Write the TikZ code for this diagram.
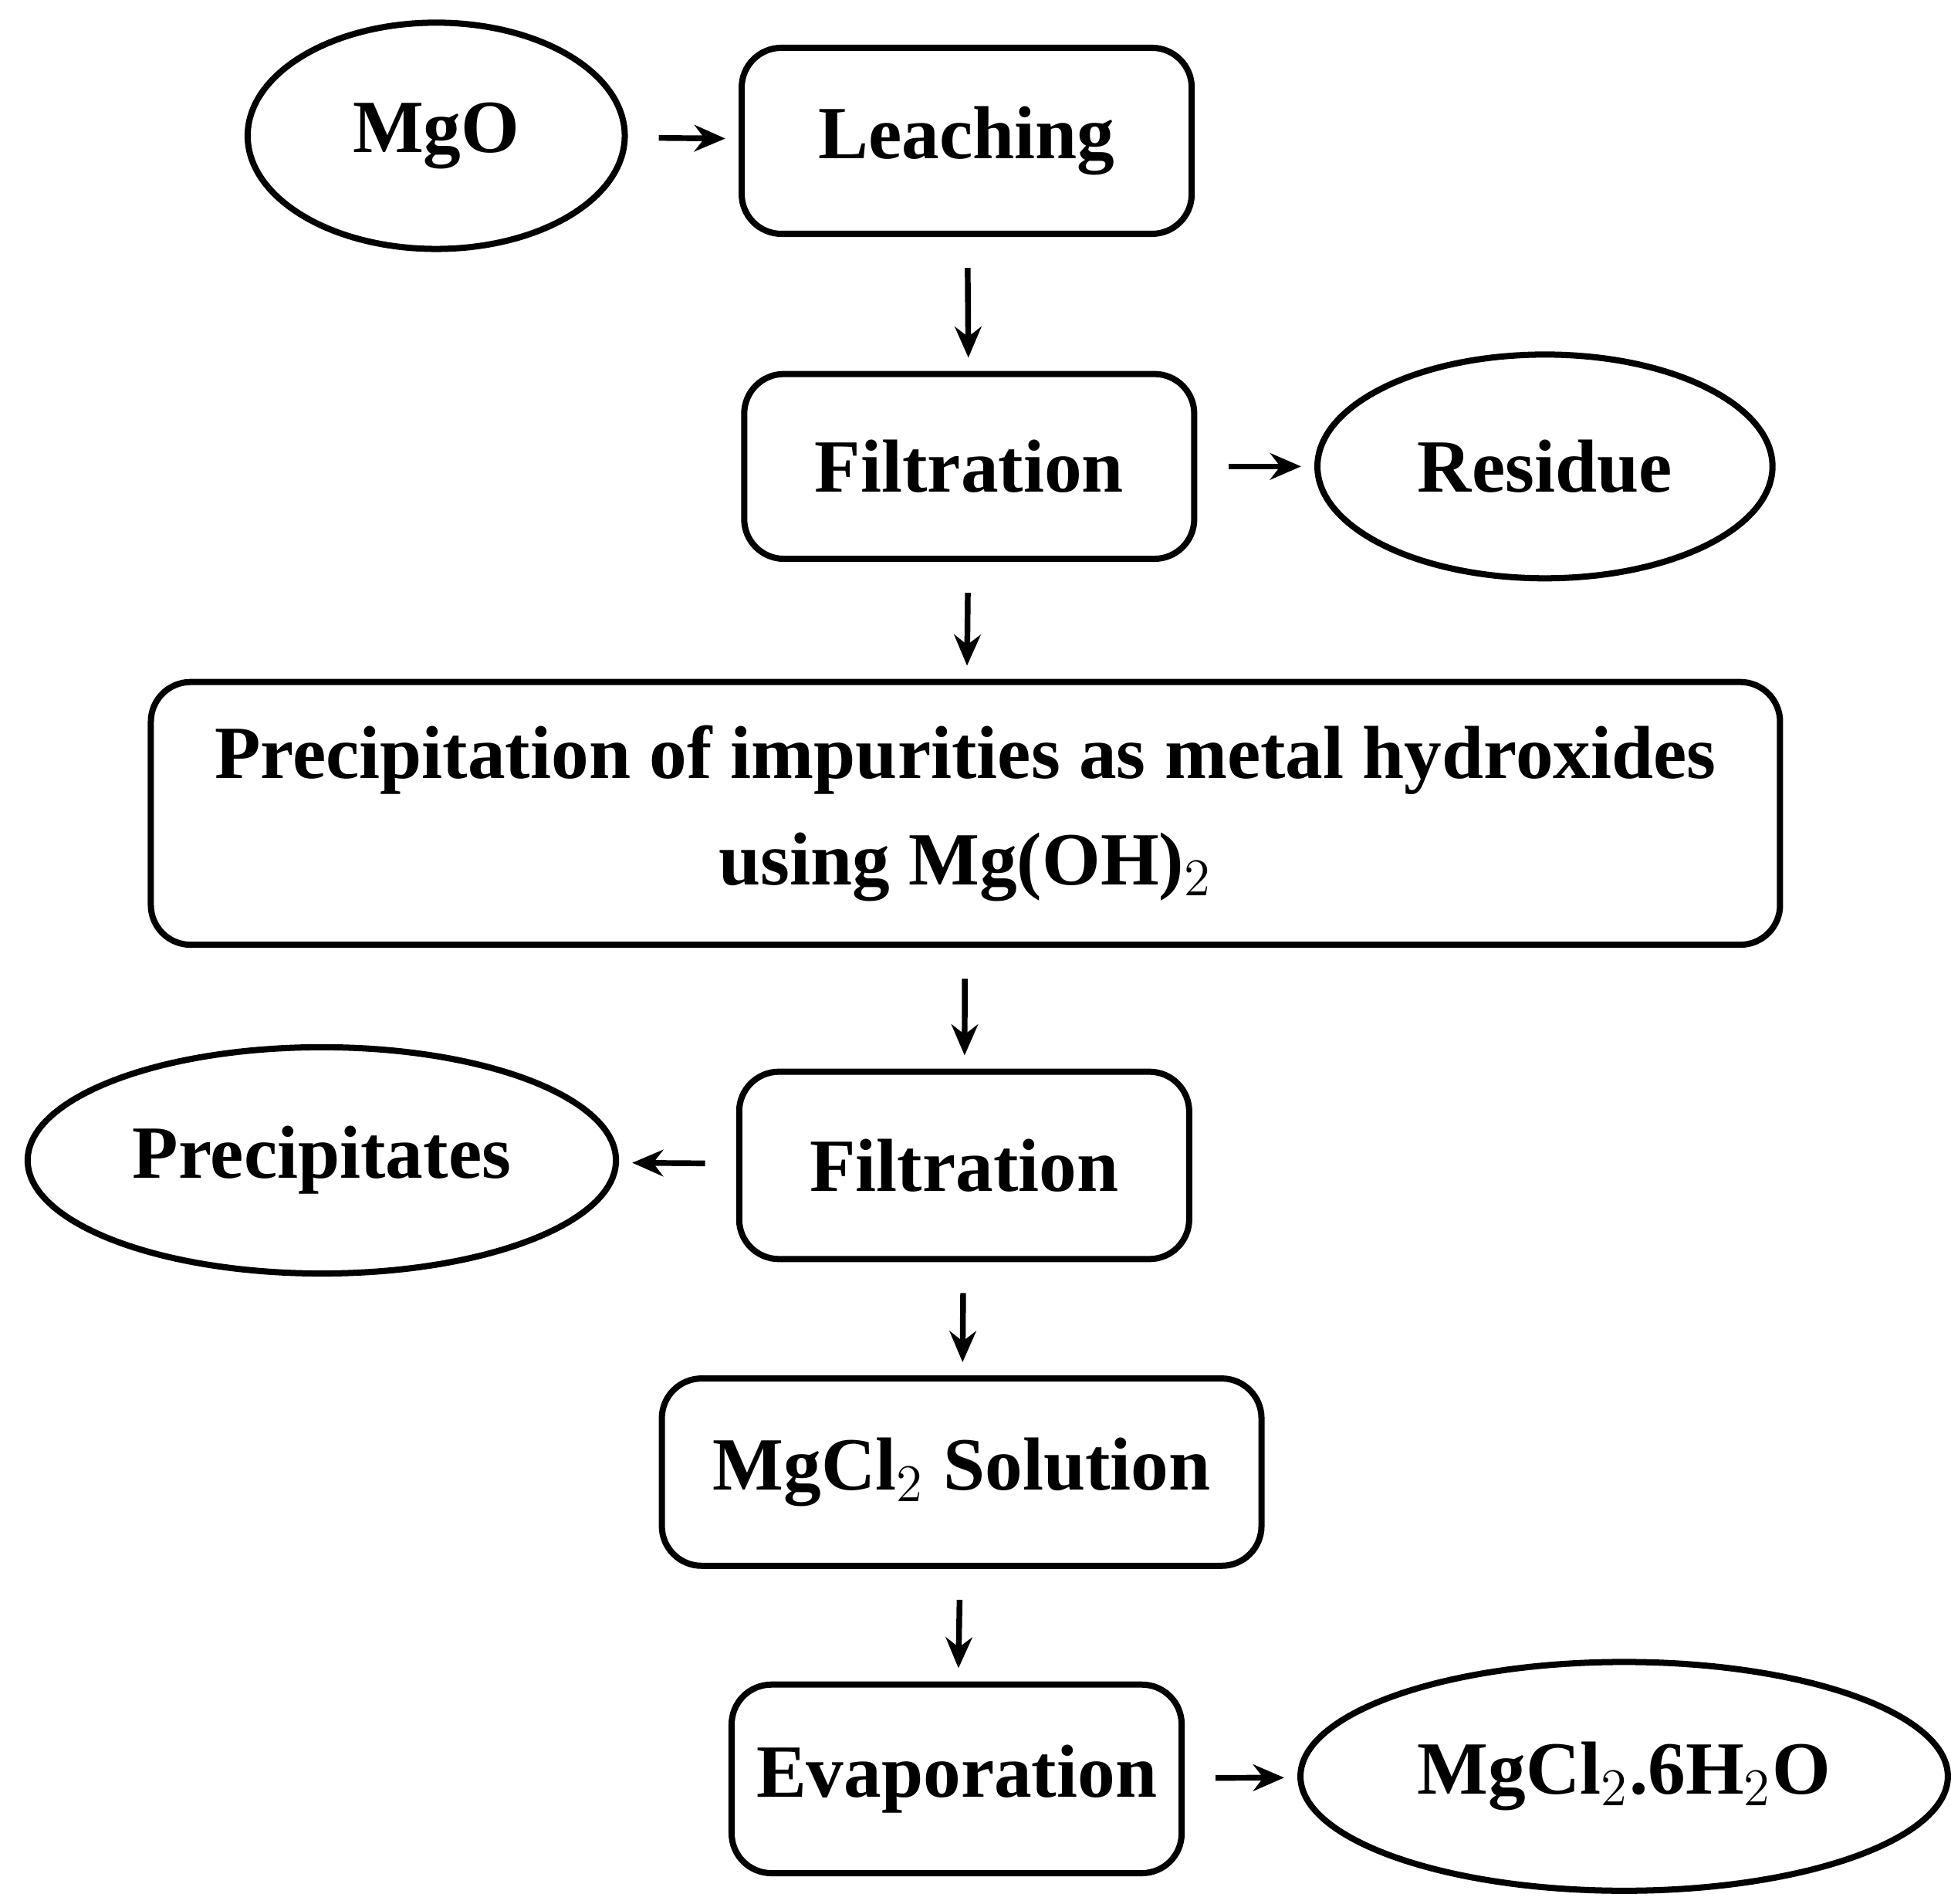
\documentclass[tikz,border=0pt]{standalone}
\usepackage{fontspec}
\setmainfont{Liberation Serif}
\usetikzlibrary{arrows.meta,shapes.geometric}
\tikzset{
  >={Stealth[length=7pt,width=6pt]},
  box/.style={draw,line width=1.4pt,rounded corners=9pt,align=center,inner sep=0pt},
  oval/.style={draw,ellipse,line width=1.4pt,inner sep=0pt},
  arr/.style={->,line width=1.3pt,shorten <=7pt,shorten >=3pt},
  every node/.style={font=\fontsize{17}{24}\selectfont\bfseries}
}
\begin{document}
\begin{tikzpicture}
\useasboundingbox (0,0) rectangle (15.52,-15.14);
% nodes
\node[oval,minimum width=3.0cm,minimum height=1.8cm] (mgo) at (3.47,-1.08) {MgO};
\node[box,minimum width=3.58cm,minimum height=1.48cm] (leach) at (7.69,-1.12) {Leaching};
\node[box,minimum width=3.58cm,minimum height=1.47cm] (filt1) at (7.71,-3.71) {Filtration};
\node[oval,minimum width=3.62cm,minimum height=1.78cm] (res) at (12.29,-3.71) {Residue};
\node[box,minimum width=12.96cm,minimum height=2.09cm] (prec) at (7.68,-6.47)
  {Precipitation of impurities as metal hydroxides\\using Mg(OH)$_2$};
\node[box,minimum width=3.58cm,minimum height=1.49cm] (filt2) at (7.67,-9.27) {Filtration};
\node[oval,minimum width=4.68cm,minimum height=1.8cm] (pcs) at (2.56,-9.23) {Precipitates};
\node[box,minimum width=4.77cm,minimum height=1.49cm] (sol) at (7.65,-11.71) {MgCl$_2$ Solution};
\node[box,minimum width=3.58cm,minimum height=1.5cm] (evap) at (7.61,-14.15) {Evaporation};
\node[oval,minimum width=5.15cm,minimum height=1.82cm] (hex) at (12.92,-14.13) {MgCl$_2$.6H$_2$O};
% connectors
\draw[arr] (mgo) -- (leach);
\draw[arr] (leach) -- (filt1);
\draw[arr] (filt1) -- (res);
\draw[arr] (filt1) -- (prec);
\draw[arr] (prec) -- (filt2);
\draw[arr] (filt2) -- (pcs);
\draw[arr] (filt2) -- (sol);
\draw[arr] (sol) -- (evap);
\draw[arr] (evap) -- (hex);
\end{tikzpicture}
\end{document}
